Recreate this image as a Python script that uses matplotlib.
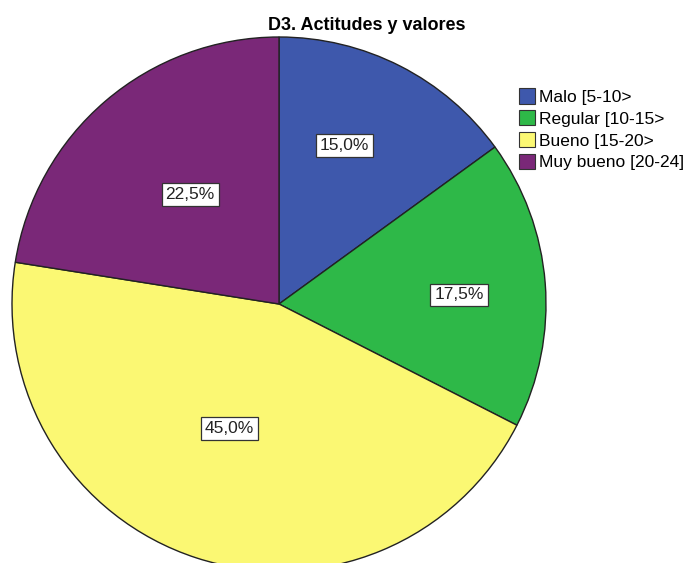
import matplotlib.pyplot as plt
from matplotlib.patches import Patch
import numpy as np

plt.rcParams["font.family"] = ["Liberation Sans", "DejaVu Sans"]

CATEGORIES = ["Malo [5-10>", "Regular [10-15>", "Bueno [15-20>", "Muy bueno [20-24]"]
PERCENTS = [15.0, 17.5, 45.0, 22.5]
COLORS = ["#3e58ac", "#2eb848", "#fbf873", "#7a2878"]
# label placement: radial distance and angle offset from the wedge middle
LABEL_DIST = [0.642, 0.675, 0.502, 0.528]
LABEL_ANG_OFFSET = [4.5, -1.6, -3.7, -1.4]
TITLE = "D3. Actitudes y valores"

W, H = 691, 563
fig = plt.figure(figsize=(W / 100, H / 100), dpi=100)
cx, cy, r = 279, 304, 267
ax = fig.add_axes([(cx - r) / W, (H - cy - r) / H, 2 * r / W, 2 * r / H])

wedges, _ = ax.pie(
    PERCENTS, colors=COLORS, startangle=90, counterclock=False,
    wedgeprops=dict(edgecolor="#222222", linewidth=1.0), radius=1.0,
)
ax.set_xlim(-1, 1)
ax.set_ylim(-1, 1)
ax.set_aspect("equal")
ax.axis("off")

for w, pct, d, off in zip(wedges, PERCENTS, LABEL_DIST, LABEL_ANG_OFFSET):
    ang = np.deg2rad((w.theta1 + w.theta2) / 2 + off)
    ax.text(d * np.cos(ang), d * np.sin(ang), f"{pct:.1f}%".replace(".", ","),
            ha="center", va="center", fontsize=12.5, color="#222222",
            bbox=dict(boxstyle="square,pad=0.22", facecolor="white", edgecolor="#333333", linewidth=0.9))

fig.text(367 / W, 1 - 25 / H, TITLE, ha="center", va="center", fontsize=13, fontweight="bold")

handles = [Patch(facecolor=c, edgecolor="#333333", linewidth=0.8) for c in COLORS]
fig.legend(handles, CATEGORIES, loc="upper left", bbox_to_anchor=(519 / W, 1 - 88 / H),
           frameon=False, fontsize=12.5, handlelength=0.95, handleheight=1.0,
           handletextpad=0.2, labelspacing=0.3, borderaxespad=0, borderpad=0)

fig.savefig("out.png", dpi=100)
